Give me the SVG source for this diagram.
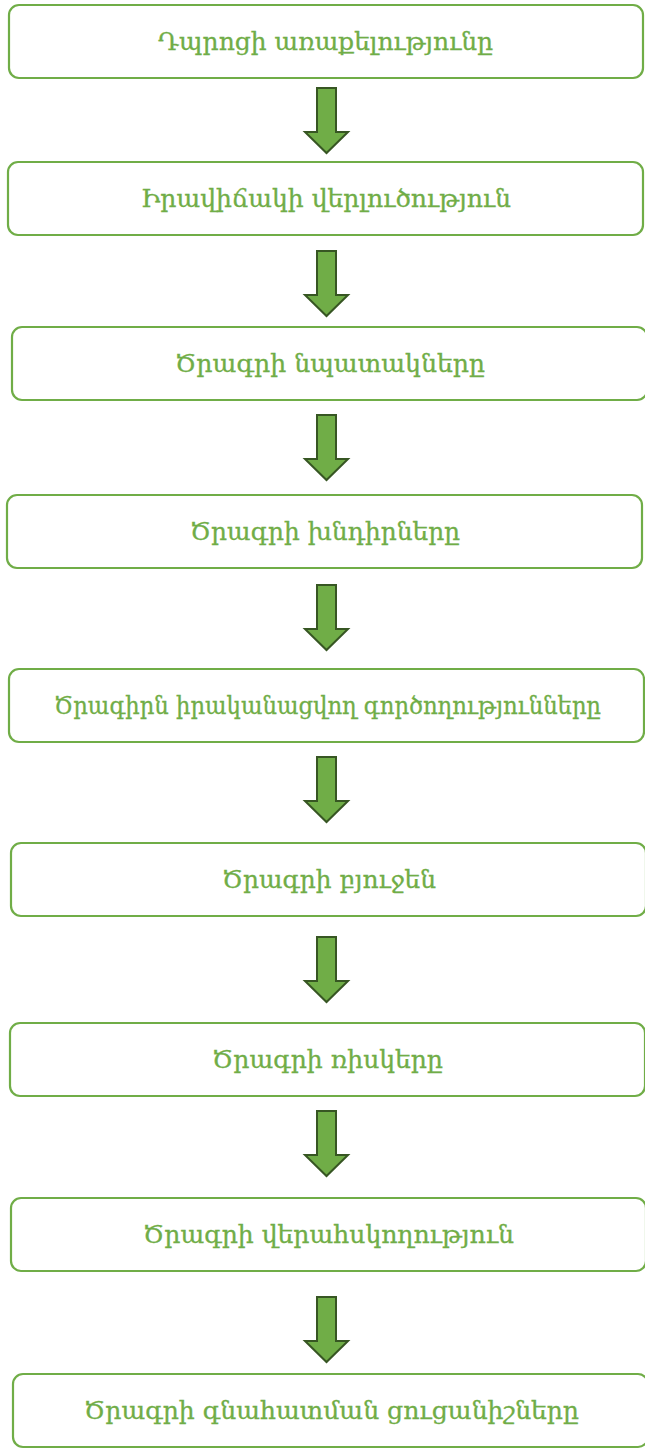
<svg xmlns="http://www.w3.org/2000/svg" width="645" height="1452" viewBox="0 0 645 1452">
<style>
.box{fill:#ffffff;stroke:#70ad47;stroke-width:2.2}
.lbl{fill:#70ad47;font-family:"DejaVu Serif","Noto Serif",serif;font-size:24px;text-anchor:middle;stroke:#70ad47;stroke-width:0.3}
.arr{fill:#70ad47;stroke:#375623;stroke-width:2;stroke-linejoin:miter}
</style>
<defs>
<path id="arrow" d="M-9.5,0 H9.5 V44 H21.5 L0,65 L-21.5,44 H-9.5 Z"/>
</defs>
<rect width="645" height="1452" fill="#ffffff"/>
<g id="connectors">
<use href="#arrow" class="arr" x="326.5" y="88"/>
<use href="#arrow" class="arr" x="326.5" y="251"/>
<use href="#arrow" class="arr" x="326.5" y="415"/>
<use href="#arrow" class="arr" x="326.5" y="585"/>
<use href="#arrow" class="arr" x="326.5" y="757"/>
<use href="#arrow" class="arr" x="326.5" y="937"/>
<use href="#arrow" class="arr" x="326.5" y="1111"/>
<use href="#arrow" class="arr" x="326.5" y="1297"/>
</g>
<g id="n1"><rect class="box" x="9" y="5" width="634" height="73" rx="10"/><text class="lbl" x="325.5" y="50" textLength="335" lengthAdjust="spacingAndGlyphs">Դպրոցի առաքելությունը</text></g>
<g id="n2"><rect class="box" x="8" y="162" width="635" height="73" rx="10"/><text class="lbl" x="326" y="207" textLength="370" lengthAdjust="spacingAndGlyphs">Իրավիճակի վերլուծություն</text></g>
<g id="n3"><rect class="box" x="12" y="327" width="635" height="73" rx="10"/><text class="lbl" x="330" y="372" textLength="310" lengthAdjust="spacingAndGlyphs">Ծրագրի նպատակները</text></g>
<g id="n4"><rect class="box" x="7" y="495" width="635" height="73" rx="10"/><text class="lbl" x="325" y="540" textLength="270" lengthAdjust="spacingAndGlyphs">Ծրագրի խնդիրները</text></g>
<g id="n5"><rect class="box" x="9" y="669" width="635" height="73" rx="10"/><text class="lbl" x="327.5" y="714" textLength="547" lengthAdjust="spacingAndGlyphs">Ծրագիրն իրականացվող գործողությունները</text></g>
<g id="n6"><rect class="box" x="11" y="843" width="635" height="73" rx="10"/><text class="lbl" x="329" y="888" textLength="214" lengthAdjust="spacingAndGlyphs">Ծրագրի բյուջեն</text></g>
<g id="n7"><rect class="box" x="10" y="1023" width="635" height="73" rx="10"/><text class="lbl" x="327.5" y="1068" textLength="231" lengthAdjust="spacingAndGlyphs">Ծրագրի ռիսկերը</text></g>
<g id="n8"><rect class="box" x="11" y="1198" width="635" height="73" rx="10"/><text class="lbl" x="328.5" y="1243" textLength="371" lengthAdjust="spacingAndGlyphs">Ծրագրի վերահսկողություն</text></g>
<g id="n9"><rect class="box" x="13" y="1374" width="635" height="73" rx="10"/><text class="lbl" x="331.5" y="1419" textLength="495" lengthAdjust="spacingAndGlyphs">Ծրագրի գնահատման ցուցանիշները</text></g>
</svg>
